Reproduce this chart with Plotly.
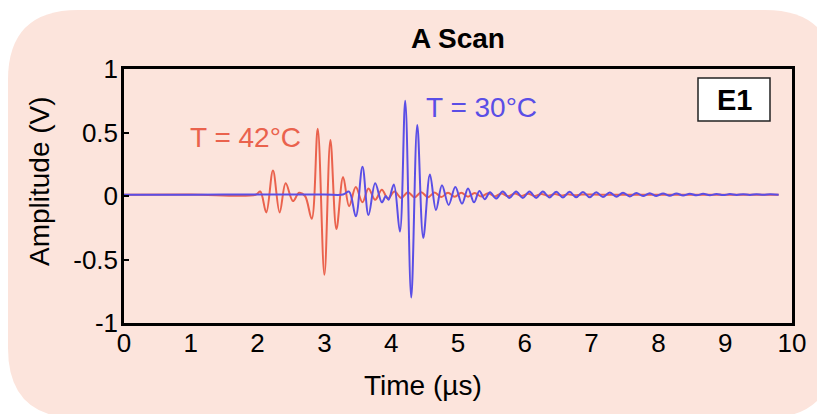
import plotly.graph_objects as go

# ---- data ----
red_t = [0.0, 1.0, 1.97, 2.04, 2.13, 2.23, 2.33, 2.42, 2.53, 2.62, 2.71, 2.81,
         2.90, 3.00, 3.09, 3.18, 3.28, 3.37, 3.47, 3.57, 3.66, 3.76, 3.86, 3.95,
         4.05, 4.15, 4.25, 4.35, 4.45, 4.55, 4.65, 4.75, 4.85, 4.95,
         5.05, 5.15, 5.25, 5.35, 5.45, 5.55, 5.65, 5.75, 5.85, 5.95,
         6.05, 6.15, 6.25, 6.35, 6.45, 6.55, 6.65, 6.75, 6.85,
         7.2, 8.0, 9.0, 9.8]
red_a = [0.01, 0.012, 0.01, 0.035, -0.13, 0.20, -0.13, 0.10, -0.04, 0.025, 0.0, -0.18,
         0.53, -0.62, 0.44, -0.26, 0.15, -0.08, 0.07, -0.05, 0.06, -0.03, 0.05, -0.02,
         0.035, -0.015, 0.03, -0.01, 0.03, -0.01, 0.028, -0.008, 0.026, -0.006,
         0.025, -0.005, 0.024, -0.004, 0.022, -0.003, 0.02, -0.002, 0.02, 0.0,
         0.018, 0.0, 0.016, 0.002, 0.015, 0.004, 0.014, 0.005, 0.012,
         0.01, 0.01, 0.01, 0.01]

blue_t = [0.0, 1.0, 2.0, 3.0, 3.28,
          3.37, 3.47, 3.57, 3.66, 3.76, 3.86, 3.92, 3.96, 4.04, 4.13,
          4.21, 4.30, 4.39, 4.48, 4.58, 4.67, 4.76, 4.86, 4.96, 5.06,
          5.15, 5.24, 5.32, 5.40, 5.48, 5.57, 5.67,
          5.77, 5.87, 5.97, 6.07, 6.17, 6.27, 6.37, 6.47, 6.57, 6.67,
          6.77, 6.87, 6.97, 7.07, 7.17, 7.27, 7.37, 7.47, 7.57, 7.67,
          7.77, 7.87, 7.97, 8.07, 8.17, 8.27, 8.37, 8.47, 8.57, 8.67,
          8.77, 8.87, 8.97, 9.07, 9.17, 9.27, 9.37, 9.47, 9.57, 9.67,
          9.8]
blue_a = [0.01, 0.01, 0.012, 0.012, 0.012,
          0.035, -0.16, 0.23, -0.15, 0.10, -0.05, 0.0, -0.03, 0.09, -0.28,
          0.75, -0.80, 0.56, -0.33, 0.17, -0.11, 0.085, -0.07, 0.07, -0.06,
          0.06, -0.05, 0.04, -0.025, 0.03, -0.02, 0.035,
          -0.015, 0.035, -0.015, 0.035, -0.015, 0.035, -0.012, 0.033, -0.012, 0.033,
          -0.01, 0.032, -0.01, 0.03, -0.008, 0.028, -0.005, 0.026, -0.003, 0.024,
          0.0, 0.022, 0.0, 0.02, 0.002, 0.02, 0.004, 0.018, 0.005, 0.017,
          0.006, 0.016, 0.007, 0.015, 0.008, 0.014, 0.008, 0.014, 0.009, 0.013,
          0.01]

x_ticks = [0, 1, 2, 3, 4, 5, 6, 7, 8, 9, 10]
x_ticktext = ["0", "1", "2", "3", "4", "5", "6", "7", "8", "9", "10"]
y_ticks = [-1, -0.5, 0, 0.5, 1]
y_ticktext = ["-1", "-0.5", "0", "0.5", "1"]

RED = "#EA624D"
BLUE = "#5A4EE6"
PINK = "#FCE4DC"
FONT = "Liberation Sans, Arial, Helvetica, sans-serif"

# ---- layout geometry (pixels) ----
W, H = 817, 414
L, R, T, B = 124, 25, 69, 91
PW, PH = W - L - R, H - T - B


def px(xp):
    return (xp - L) / PW


def py(yp):
    return (H - B - yp) / PH


fig = go.Figure()
fig.add_trace(go.Scatter(x=red_t, y=red_a, mode="lines",
                         line=dict(color=RED, width=2, shape="spline", smoothing=1.0),
                         name="T = 42°C", showlegend=False))
fig.add_trace(go.Scatter(x=blue_t, y=blue_a, mode="lines",
                         line=dict(color=BLUE, width=2, shape="spline", smoothing=1.0),
                         name="T = 30°C", showlegend=False))

# pink rounded background panel
x0, x1, y0, y1, r = 8, 835, 10, 418, 70
path = (f"M {px(x0 + r)},{py(y0)} L {px(x1 - r)},{py(y0)} "
        f"Q {px(x1)},{py(y0)} {px(x1)},{py(y0 + r)} "
        f"L {px(x1)},{py(y1 - r)} Q {px(x1)},{py(y1)} {px(x1 - r)},{py(y1)} "
        f"L {px(x0 + r)},{py(y1)} Q {px(x0)},{py(y1)} {px(x0)},{py(y1 - r)} "
        f"L {px(x0)},{py(y0 + r)} Q {px(x0)},{py(y0)} {px(x0 + r)},{py(y0)} Z")
shapes = [
    dict(type="path", path=path, xref="paper", yref="paper",
         fillcolor=PINK, line=dict(width=0), layer="below"),
    dict(type="rect", xref="paper", yref="paper",
         x0=px(698), x1=px(770), y0=py(121), y1=py(78),
         line=dict(color="#222222", width=1.5), fillcolor="white", layer="above"),
]

annotations = [
    dict(text="<b>A Scan</b>", x=0.5, y=py(38), xref="paper", yref="paper",
         showarrow=False, font=dict(size=28, color="black", family=FONT),
         xanchor="center", yanchor="middle"),
    dict(text="Time (µs)", x=px(423), y=py(385), xref="paper", yref="paper",
         showarrow=False, font=dict(size=28, color="black", family=FONT),
         xanchor="center", yanchor="middle"),
    dict(text="Amplitude (V)", x=px(39), y=py(181), xref="paper", yref="paper",
         showarrow=False, textangle=-90, font=dict(size=28, color="black", family=FONT),
         xanchor="center", yanchor="middle"),
    dict(text="T = 42°C", x=px(245), y=py(137), xref="paper", yref="paper",
         showarrow=False, font=dict(size=28, color=RED, family=FONT),
         xanchor="center", yanchor="middle"),
    dict(text="T = 30°C", x=px(482), y=py(108), xref="paper", yref="paper",
         showarrow=False, font=dict(size=28, color=BLUE, family=FONT),
         xanchor="center", yanchor="middle"),
    dict(text="<b>E1</b>", x=px(734), y=py(100), xref="paper", yref="paper",
         showarrow=False, font=dict(size=29, color="black", family=FONT),
         xanchor="center", yanchor="middle"),
]

fig.update_layout(
    width=W, height=H,
    margin=dict(l=L, r=R, t=T, b=B, pad=0),
    paper_bgcolor="white",
    plot_bgcolor="white",
    shapes=shapes,
    annotations=annotations,
    font=dict(family=FONT, size=26, color="black"),
    showlegend=False,
)
fig.update_xaxes(range=[0, 10], tickmode="array", tickvals=x_ticks, ticktext=x_ticktext,
                 showline=True, linecolor="black", linewidth=2.5, mirror=True,
                 showgrid=False, zeroline=False, ticks="", ticklabelstandoff=-5,
                 tickfont=dict(size=26, family=FONT, color="black"))
fig.update_yaxes(range=[-1, 1], tickmode="array", tickvals=y_ticks, ticktext=y_ticktext,
                 showline=True, linecolor="black", linewidth=2.5, mirror=True,
                 showgrid=False, zeroline=False, ticks="inside", ticklen=5,
                 tickwidth=1.5, tickcolor="black", ticklabelstandoff=-2,
                 tickfont=dict(size=26, family=FONT, color="black"))

fig.write_html("out.html")
